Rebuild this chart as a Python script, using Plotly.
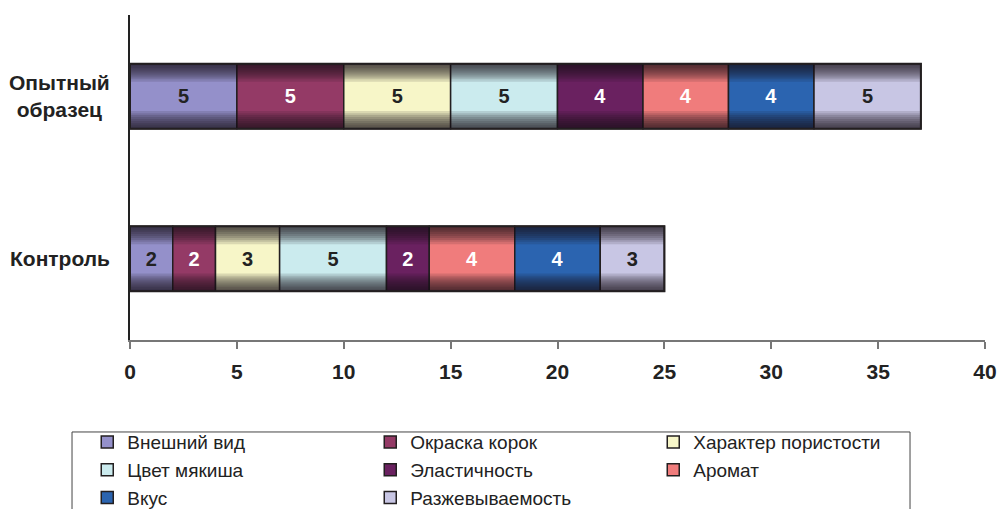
import plotly.graph_objects as go

categories = ["Контроль", "Опытный образец"]
category_labels = ["Контроль", "Опытный<br>образец"]
series_names = ["Внешний вид", "Окраска корок", "Характер пористости", "Цвет мякиша",
                "Эластичность", "Аромат", "Вкус", "Разжевываемость"]
control_values = [2, 2, 3, 5, 2, 4, 4, 3]
sample_values = [5, 5, 5, 5, 4, 4, 4, 5]
x_ticks = [0, 5, 10, 15, 20, 25, 30, 35, 40]

colors = ["#9490CA", "#943A66", "#F7F6C8", "#CBEBEE", "#6A2160", "#F07C7C", "#2B64B0", "#C8C6E4"]
text_colors = ["#222222", "#ffffff", "#222222", "#222222", "#ffffff", "#ffffff", "#ffffff", "#222222"]

FONT = "Liberation Sans, Arial, sans-serif"
BAR_W = 0.4

fig = go.Figure()

# stacked segments (explicit base so overlay shading can sit on top)
bases = [0, 0]
for i, name in enumerate(series_names):
    vals = [control_values[i], sample_values[i]]
    fig.add_trace(go.Bar(
        y=categories, x=vals, base=list(bases), name=name, orientation="h",
        marker=dict(color=colors[i], line=dict(color="#231F20", width=1.5)),
        text=[str(v) for v in vals], textposition="inside", insidetextanchor="middle",
        textfont=dict(family=FONT, size=20, color=text_colors[i], weight="bold"),
        width=BAR_W, hoverinfo="name+x",
    ))
    bases = [bases[0] + vals[0], bases[1] + vals[1]]

totals = bases

# cylinder-like shading: darkened bands at the top and bottom edges of each bar
band_depths = [0.012, 0.024, 0.036, 0.048, 0.06, 0.072, 0.084, 0.096, 0.11]
for d in band_depths:
    for off in (BAR_W / 2 - d, -BAR_W / 2):
        fig.add_trace(go.Bar(
            y=categories, x=totals, base=[0, 0], orientation="h",
            offset=off, width=d,
            marker=dict(color="rgba(20,15,25,0.13)", line=dict(width=0)),
            showlegend=False, hoverinfo="skip",
        ))

# outer outline of each bar
fig.add_trace(go.Bar(
    y=categories, x=totals, base=[0, 0], orientation="h", width=BAR_W,
    marker=dict(color="rgba(0,0,0,0)", line=dict(color="#231F20", width=2)),
    showlegend=False, hoverinfo="skip",
))

for cat, lab in zip(categories, category_labels):
    fig.add_annotation(
        x=0, xref="paper", xanchor="right", xshift=-18,
        y=cat, yref="y", yanchor="middle",
        text=lab, showarrow=False, align="center",
        font=dict(family=FONT, size=21, color="#222222", weight="bold"),
    )

fig.add_shape(
    type="rect", xref="paper", yref="paper",
    x0=-0.0678, x1=0.9123, y0=-0.283, y1=-0.65,
    line=dict(color="#444444", width=1), fillcolor="rgba(0,0,0,0)",
)

fig.update_layout(
    barmode="overlay",
    width=997, height=509,
    margin=dict(l=130, r=12, t=15, b=169, autoexpand=False),
    paper_bgcolor="white", plot_bgcolor="white",
    showlegend=True,
    legend=dict(
        orientation="h", x=-0.05, y=-0.256, xanchor="left", yanchor="top",
        entrywidth=238, entrywidthmode="pixels",
        bgcolor="rgba(0,0,0,0)", borderwidth=0,
        font=dict(family=FONT, size=19, color="#222222"),
        traceorder="normal",
    ),
    xaxis=dict(
        range=[0, 40], tickvals=x_ticks, showgrid=False, zeroline=False,
        showline=True, linecolor="#777777", linewidth=1.5,
        ticks="outside", ticklen=7, tickcolor="#777777", tickwidth=1.5,
        tickfont=dict(family=FONT, size=21, color="#222222", weight="bold"),
        ticklabelstandoff=5,
    ),
    yaxis=dict(
        range=[-0.5, 1.5], showgrid=False, zeroline=False,
        showline=True, linecolor="#222222", linewidth=1.5, ticks="",
        showticklabels=False,
    ),
)

fig.write_html("out.html")
